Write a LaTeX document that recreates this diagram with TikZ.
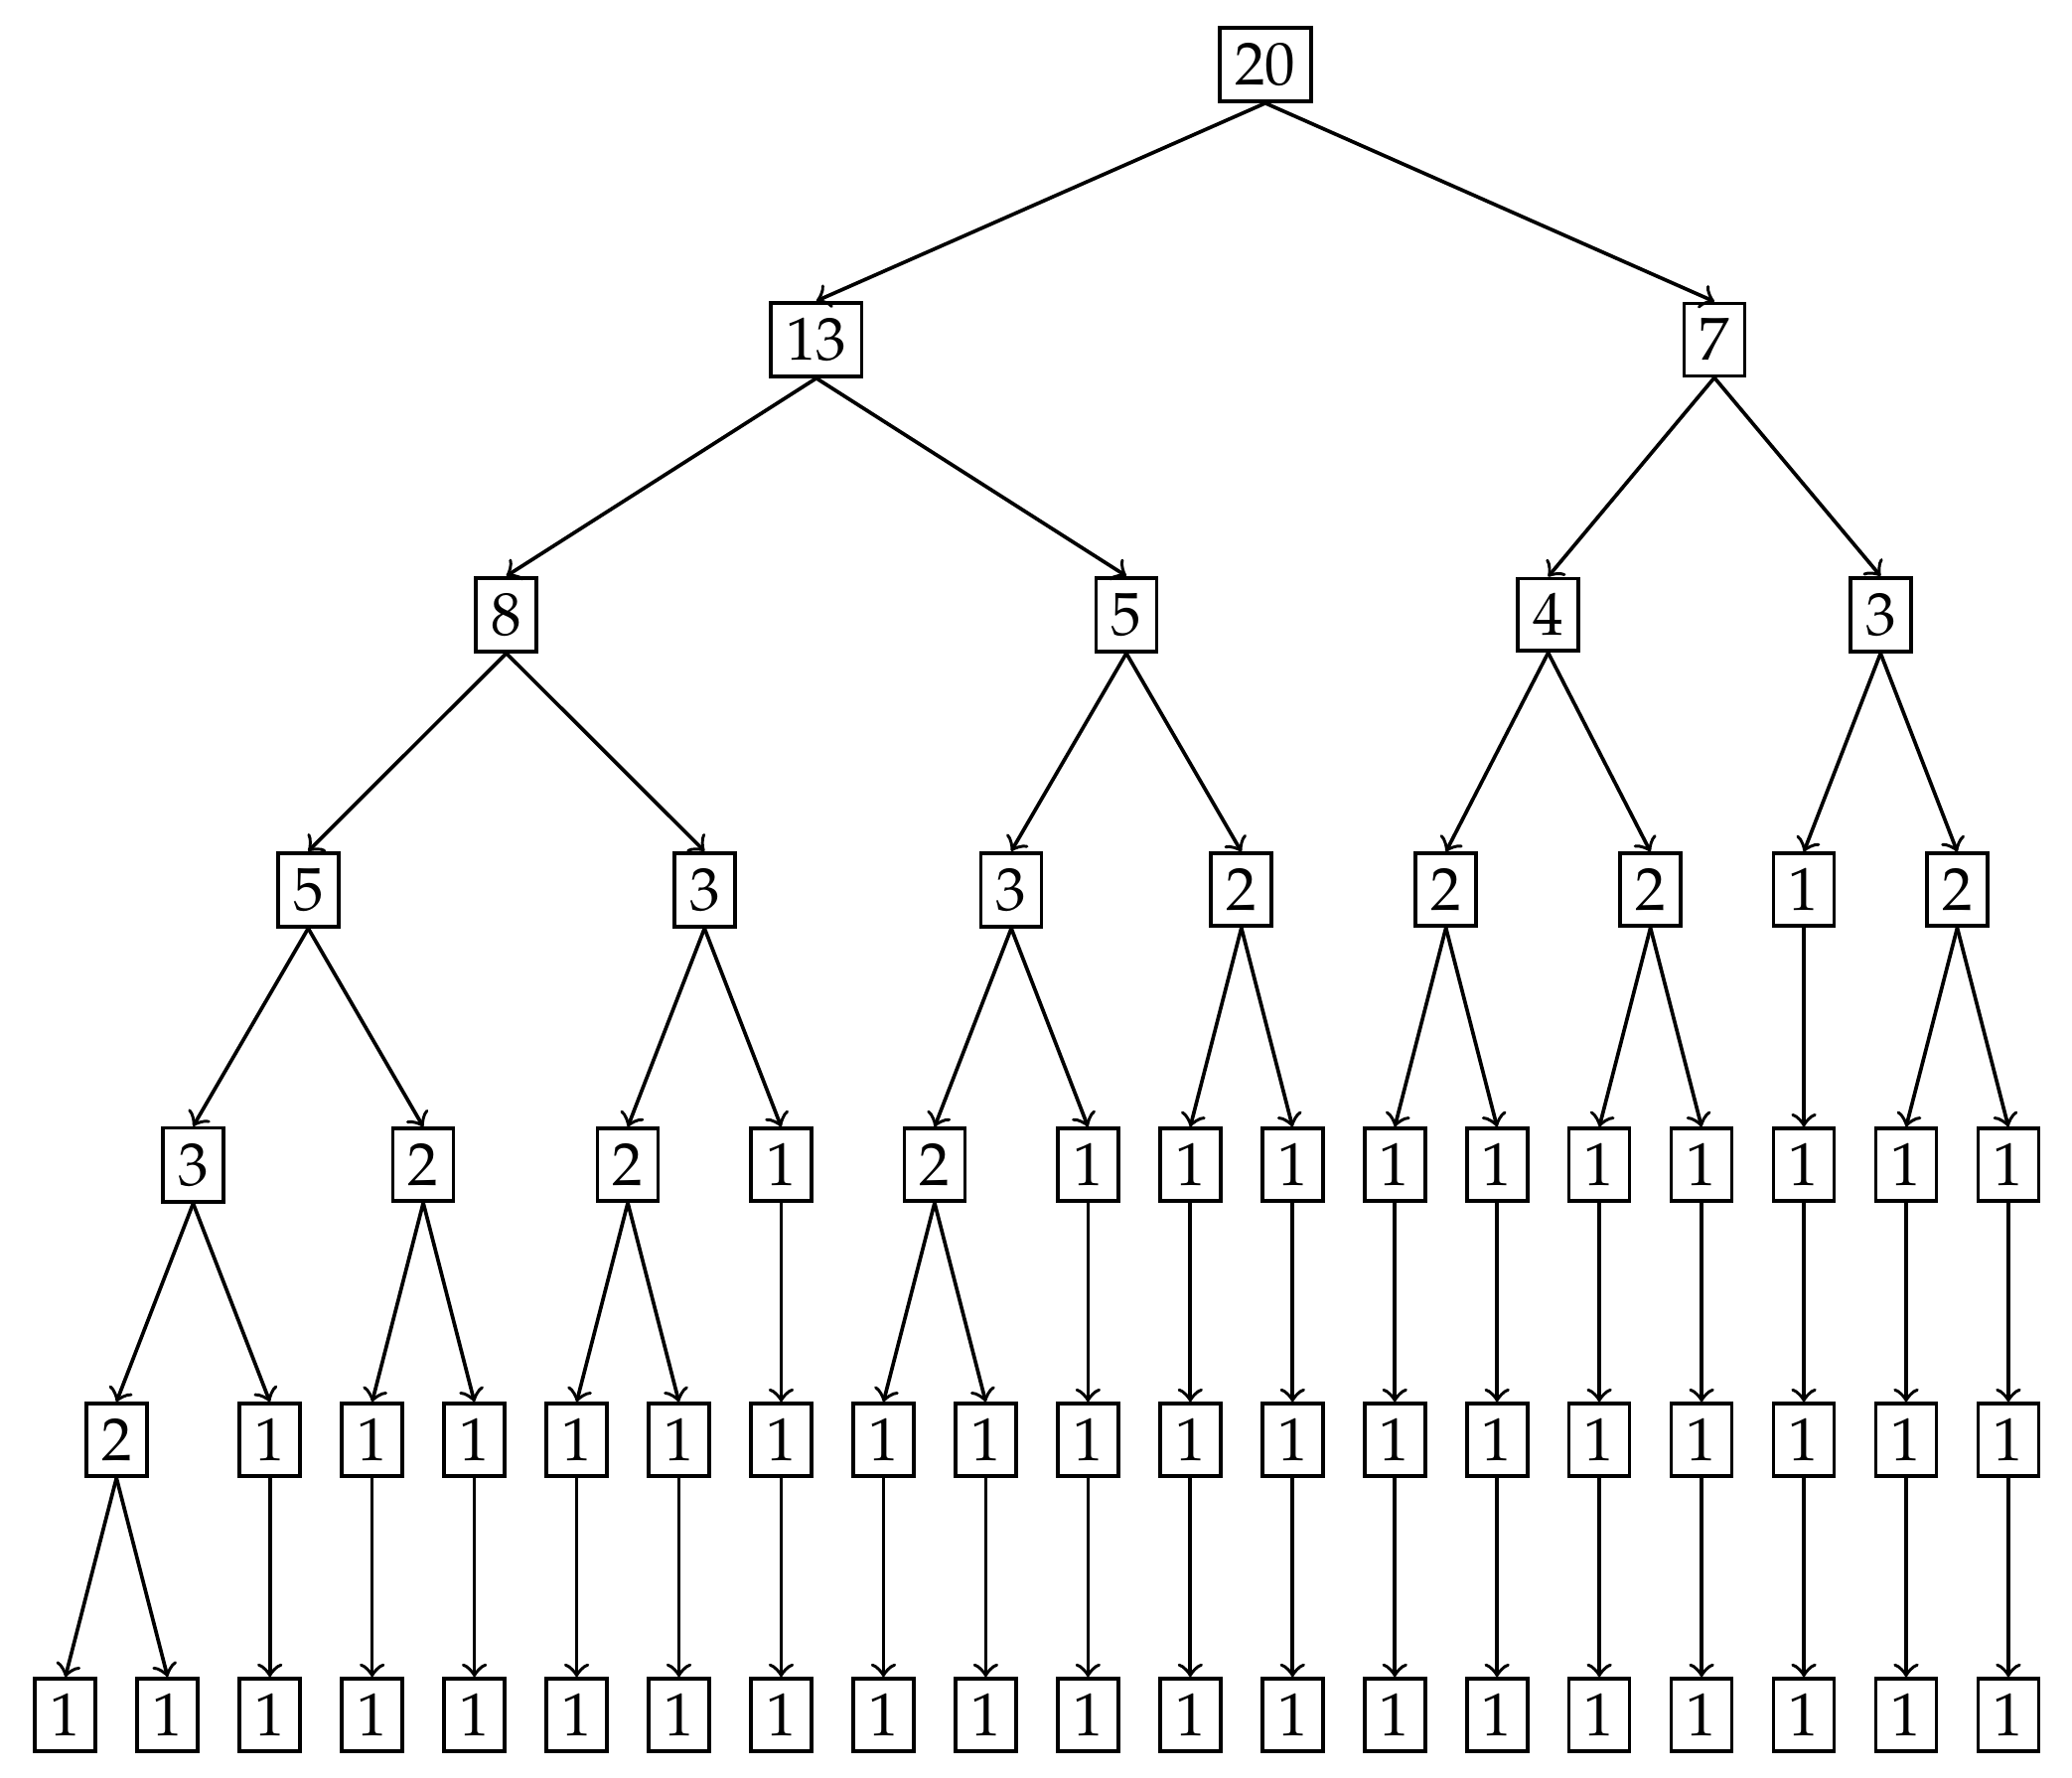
\documentclass[tikz,border=0pt]{standalone}
\usepackage[T1]{fontenc}
\usepackage{mathpazo}
\usepackage{tikz}
\usetikzlibrary{arrows}

\begin{document}
\begin{tikzpicture}[x=0.593cm,y=-1.595cm,
    box/.style={draw=black,rectangle,semithick,inner sep=2.5pt},
    edge/.style={semithick,->}]
    \useasboundingbox (-0.639,-0.2347) rectangle (19.622,6.229);

    % levels of the tree, top to bottom
    \node[box] (n0-1) at (11.734375,0) {20};
    \foreach \x/\v [count=\i] in {7.34375/13,16.125/7}
        \node[box] (n1-\i) at (\x,1) {\v};
    \foreach \x/\v [count=\i] in {4.3125/8,10.375/5,14.5/4,17.75/3}
        \node[box] (n2-\i) at (\x,2) {\v};
    \foreach \x/\v [count=\i] in {2.375/5,6.25/3,9.25/3,11.5/2,13.5/2,15.5/2,17/1,18.5/2}
        \node[box] (n3-\i) at (\x,3) {\v};
    \foreach \x/\v [count=\i] in {1.25/3,3.5/2,5.5/2,7/1,8.5/2,10/1,11/1,12/1,13/1,14/1,15/1,16/1,17/1,18/1,19/1}
        \node[box] (n4-\i) at (\x,4) {\v};
    \node[box] (n5-1) at (0.5,5) {2};
    \foreach \x in {2,...,19}
        \node[box] (n5-\x) at (\x,5) {1};
    \foreach \x in {0,...,19}
        \node[box] (n6-\x) at (\x,6) {1};

    % connectors
    \foreach \a/\b in {0-1/1-1,0-1/1-2,
                       1-1/2-1,1-1/2-2,1-2/2-3,1-2/2-4,
                       2-1/3-1,2-1/3-2,2-2/3-3,2-2/3-4,2-3/3-5,2-3/3-6,2-4/3-7,2-4/3-8,
                       3-1/4-1,3-1/4-2,3-2/4-3,3-2/4-4,3-3/4-5,3-3/4-6,3-4/4-7,3-4/4-8,
                       3-5/4-9,3-5/4-10,3-6/4-11,3-6/4-12,3-7/4-13,3-8/4-14,3-8/4-15,
                       4-1/5-1,4-1/5-2,4-2/5-3,4-2/5-4,4-3/5-5,4-3/5-6,4-4/5-7,4-5/5-8,4-5/5-9,
                       5-1/6-0,5-1/6-1}
        \draw[edge] (n\a.south) -- (n\b.north);
    \foreach \j in {6,...,15}{
        \pgfmathtruncatemacro{\k}{\j+4}
        \draw[edge] (n4-\j.south) -- (n5-\k.north);
    }
    \foreach \k in {2,...,19}
        \draw[edge] (n5-\k.south) -- (n6-\k.north);

\end{tikzpicture}
\end{document}
